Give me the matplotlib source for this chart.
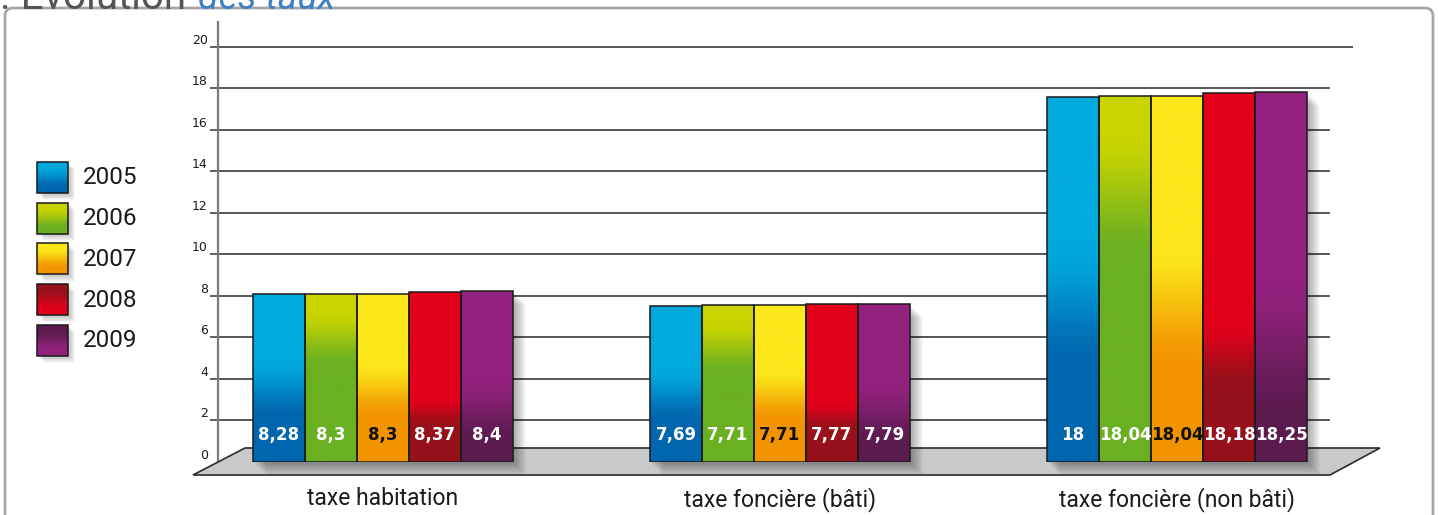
import numpy as np
import matplotlib
matplotlib.use("Agg")
import matplotlib.pyplot as plt
from matplotlib import font_manager
from matplotlib.colors import to_rgb
from matplotlib.patches import Polygon, Rectangle, FancyBboxPatch
from matplotlib.transforms import Affine2D

categories = ["taxe habitation", "taxe foncière (bâti)", "taxe foncière (non bâti)"]
years = ["2005", "2006", "2007", "2008", "2009"]
rates_2005 = [8.28, 7.69, 18.00]
rates_2006 = [8.30, 7.71, 18.04]
rates_2007 = [8.30, 7.71, 18.04]
rates_2008 = [8.37, 7.77, 18.18]
rates_2009 = [8.40, 7.79, 18.25]
series = [rates_2005, rates_2006, rates_2007, rates_2008, rates_2009]
y_ticks = list(range(0, 21, 2))

TOPS = ["#00a9de", "#c9d400", "#fce81a", "#e2001a", "#93227e"]
BOTTOMS = ["#0066ae", "#6ab023", "#f29400", "#97111a", "#5c1b4f"]
RAMPS = [(0.40, 0.75), (0.10, 0.45), (0.40, 0.75), (0.62, 0.80), (0.50, 0.90)]
LABEL_COLORS = ["white", "white", "#111111", "white", "white"]
LEGEND_FLIP = [False, False, False, True, True]

W, H = 1438, 515
INK = "#1a1a1a"
GRIDC = "#4a4a4a"


def fig_box(x0, y0, x1, y1):
    # pixel box with top-left origin -> figure fraction
    return [x0 / W, 1 - y1 / H, (x1 - x0) / W, (y1 - y0) / H]


def ramp(top, bottom, a, b, n=256):
    t = np.linspace(0, 1, n)
    s = np.clip((t - a) / (b - a), 0, 1)
    s = s * s * (3 - 2 * s)
    c0, c1 = np.array(to_rgb(top)), np.array(to_rgb(bottom))
    return (c0[None] * (1 - s[:, None]) + c1[None] * s[:, None])[:, None, :]


def fmt(v):
    return f"{v:g}".replace(".", ",")


def narrow_bold():
    # look for a condensed / narrow bold face among installed fonts
    for f in font_manager.fontManager.ttflist:
        narrow = "Narrow" in f.name or "Condensed" in f.name or str(f.stretch) in (
            "condensed", "semi-condensed", "extra-condensed")
        bold = f.weight in ("bold", 700) or (isinstance(f.weight, int) and f.weight >= 600)
        if narrow and bold and "Oblique" not in f.fname and "Italic" not in f.fname:
            return font_manager.FontProperties(fname=f.fname, size=13.3)
    return font_manager.FontProperties(family="Roboto", weight="bold", size=13)


label_font = narrow_bold()

fig = plt.figure(figsize=(W / 100, H / 100), dpi=100)
fig.patch.set_facecolor("white")

# decoration layer in pixel coordinates
deco = fig.add_axes([0, 0, 1, 1])
deco.set_zorder(0)
deco.axis("off")

deco.add_patch(FancyBboxPatch((5, 8), 1428, 560, boxstyle="round,pad=0,rounding_size=8",
                              fill=False, ec="#a6a6a6", lw=2))
deco.text(0, 9, ". Evolution", fontsize=29, color="#555555", va="baseline", family="Roboto")
deco.text(198, 9, "des taux", fontsize=27, color="#3f80c3", va="baseline", family="Roboto",
          style="italic")

for i, year in enumerate(years):
    y0 = 162 + 40.7 * i
    for k in range(1, 9):
        deco.add_patch(Rectangle((37 + k * 0.9, y0 + k * 0.9), 31, 31, fc="black",
                                 alpha=0.03, lw=0))
    grad = ramp(TOPS[i], BOTTOMS[i], 0.15, 0.85)
    if LEGEND_FLIP[i]:
        grad = grad[::-1]
    deco.imshow(grad, extent=(37, 68, y0 + 31, y0), aspect="auto", origin="upper",
                interpolation="bilinear", zorder=2)
    deco.add_patch(Rectangle((37, y0), 31, 31, fill=False, ec=INK, lw=1.1, zorder=3))
    deco.text(83, y0 + 16, year, fontsize=17.5, color=INK, va="center", family="Roboto")

deco.set_xlim(0, W)
deco.set_ylim(H, 0)

# back wall: axis, ticks and grid
back = fig.add_axes(fig_box(218, 22, 1353, 462))
back.set_zorder(1)
back.patch.set_alpha(0)
back.set_xlim(0, 1)
back.set_ylim(0, 21.2)
for s in ["top", "right", "bottom"]:
    back.spines[s].set_visible(False)
back.spines["left"].set_color("#7a7a7a")
back.spines["left"].set_linewidth(1.6)
back.set_xticks([])
back.set_yticks(y_ticks, [str(t) for t in y_ticks])
back.tick_params(axis="y", length=5.8, width=1.2, color="#444444", pad=1.5,
                 labelsize=9, labelcolor=INK)
for lab in back.get_yticklabels():
    lab.set_va("bottom")
back.yaxis.get_major_ticks()[0].tick1line.set_visible(False)
for t in y_ticks[1:]:
    back.axhline(t, xmin=0, xmax=1 if t == y_ticks[-1] else (1329 - 218) / (1353 - 218),
                 color=GRIDC, lw=1.3)

# front plane: floor and bars
front = fig.add_axes(fig_box(184.5, 56, 1375.5, 462))
front.set_zorder(2)
front.patch.set_alpha(0)

floor = Polygon([(193, 475), (1330, 475), (1380, 448), (245, 448)], closed=True,
                transform=deco.transData, fc="#c8c9cb", ec="#2a2a2a", lw=1.2,
                zorder=0.5, clip_on=False)
front.add_patch(floor)

x = np.arange(len(categories))
width = 52 / 397
for i, vals in enumerate(series):
    pos = x + (i - 2) * width
    bars = front.bar(pos, vals, width, color="none", edgecolor="#1b1b1b", lw=1.1, zorder=3)
    for bar, v in zip(bars, vals):
        for k in range(1, 14):
            front.add_patch(Rectangle((bar.get_x(), 0), width, v, fc="black", alpha=0.028,
                                      lw=0, zorder=1, clip_on=False,
                                      transform=front.transData + Affine2D().translate(k, -k)))
        img = front.imshow(ramp(TOPS[i], BOTTOMS[i], *RAMPS[i]),
                           extent=(bar.get_x(), bar.get_x() + width, 0, v),
                           aspect="auto", origin="upper", interpolation="bilinear", zorder=2)
        img.set_clip_path(bar)
        front.text(bar.get_x() + width / 2, 1.08, fmt(v), ha="center", va="baseline",
                   color=LABEL_COLORS[i], fontproperties=label_font, zorder=4)

front.set_xlim(-0.5, 2.5)
front.set_ylim(0, 20)
for s in front.spines.values():
    s.set_visible(False)
front.set_yticks([])
front.set_xticks(x, categories)
front.tick_params(axis="x", length=0, pad=18, labelsize=16.5, labelcolor=INK)
for lab in front.get_xticklabels():
    lab.set_family("Roboto")

fig.savefig("out.png", dpi=100)
